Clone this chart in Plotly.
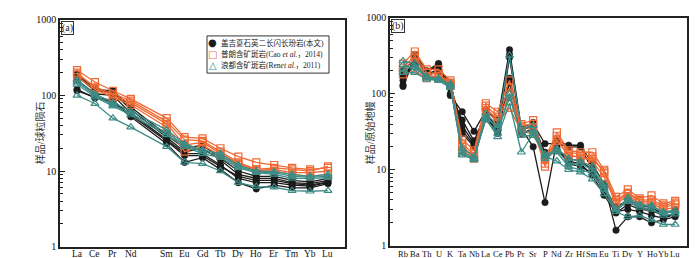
import plotly.graph_objects as go

# ---------------- data ----------------
ree_labels = ["La", "Ce", "Pr", "Nd", "Sm", "Eu", "Gd", "Tb", "Dy", "Ho", "Er", "Tm", "Yb", "Lu"]
ree_pos = [0, 1, 2, 3, 5, 6, 7, 8, 9, 10, 11, 12, 13, 14]  # Pm gap at 4

ree_black = [
    [190, 120, 115, 70, 30, 20, 22, 15, 10, 8.5, 8.5, 7.5, 7.2, 8],
    [180, 115, 110, 65, 28, 18, 20, 14, 9, 8, 8, 7, 6.8, 7.5],
    [160, 105, 100, 58, 26, 17, 17, 12, 8, 7, 7, 6.5, 6.3, 7],
    [120, 92, 82, 52, 23, 13, 15, 10.5, 7, 5.8, 6.5, 6, 6, 6.8],
    [115, 95, 85, 55, 25, 16, 16, 11.5, 8.5, 7.5, 7.5, 6.8, 6.5, 7.2],
]
ree_orange = [
    [215, 150, 115, 90, 50, 28, 27, 20, 15.5, 13, 12, 11, 10.5, 11],
    [190, 130, 105, 85, 45, 26, 25, 18, 13, 10.5, 11, 10.5, 10, 11.5],
    [175, 120, 95, 75, 38, 18, 22, 16, 12, 10, 10, 9, 8.5, 9],
    [200, 125, 100, 80, 42, 22, 24, 17, 12.5, 10.3, 10.5, 9.5, 9.5, 10],
]
ree_teal = [
    [160, 105, 80, 62, 35, 23, 19, 17, 12, 10, 9.8, 9, 8.5, 9],
    [150, 100, 75, 58, 32, 22, 18, 16, 11.5, 9.7, 9.5, 8.5, 8.3, 8.5],
    [140, 95, 72, 55, 30, 21, 17, 15, 11, 9.5, 9, 8, 8, 8.2],
    [100, 78, 50, 38, 21, 13, 12.5, 10, 7, 6.2, 6.1, 5.5, 5.4, 5.5],
]

te_labels = ["Rb", "Ba", "Th", "U", "K", "Ta", "Nb", "La", "Ce", "Pb", "Pr", "Sr", "P", "Nd",
             "Zr", "Hf", "Sm", "Eu", "Ti", "Dy", "Y", "Ho", "Yb", "Lu"]
te_black = [
    [130, 330, 200, 250, 95, 58, 32, 60, 45, 380, 35, 20, 3.7, 24, 21, 21, 12, 6.5, 1.6, 2.4, 2.4, 2.0, 2.2, 2.4],
    [125, 300, 190, 240, 100, 45, 24, 55, 35, 330, 32, 40, 22, 22, 20, 20, 10, 5, 2.8, 3.0, 2.8, 2.5, 2.3, 2.6],
    [170, 270, 200, 230, 130, 38, 22, 50, 32, 160, 35, 42, 16, 18, 13, 12, 8.5, 4.6, 2.7, 3.5, 3.0, 2.9, 2.5, 2.5],
    [200, 290, 180, 210, 140, 30, 20, 52, 30, 300, 33, 38, 17, 20, 12, 11, 9, 5.5, 3.0, 3.8, 3.2, 3.0, 2.7, 2.8],
    [150, 250, 170, 200, 120, 33, 21, 48, 33, 140, 30, 35, 15, 19, 14, 13, 10, 6, 3.2, 4.0, 3.4, 3.2, 2.6, 3.0],
]
te_orange = [
    [250, 360, 210, 210, 150, 25, 18, 75, 58, 150, 40, 45, 14, 31, 18, 17, 17, 10, 4.4, 5.5, 4.2, 4.6, 3.6, 3.9],
    [220, 320, 190, 180, 140, 22, 16, 70, 50, 120, 38, 40, 12, 28, 17, 16, 15, 9, 4.0, 5.0, 4.0, 4.0, 3.4, 3.7],
    [200, 300, 170, 170, 135, 20, 15, 65, 45, 100, 36, 35, 11, 25, 15, 15, 13, 8, 3.6, 4.5, 3.7, 3.6, 3.0, 3.2],
    [180, 200, 160, 160, 130, 18, 14, 60, 42, 65, 32, 30, 14, 24, 16, 14, 14, 9.5, 3.8, 4.8, 3.9, 3.8, 3.2, 3.5],
]
te_teal = [
    [270, 250, 170, 160, 135, 17, 14, 55, 38, 320, 35, 38, 15, 19, 14, 13, 11, 6.5, 2.8, 4.3, 3.5, 3.4, 2.8, 2.9],
    [240, 220, 165, 155, 130, 16, 13.5, 50, 35, 90, 30, 33, 14, 18, 12, 12, 10, 6, 3.0, 4.0, 3.4, 3.3, 2.7, 2.8],
    [210, 230, 160, 150, 125, 15.5, 14, 47, 27, 75, 17, 30, 15, 13, 10, 9.3, 7.5, 4.8, 2.8, 2.4, 2.5, 2.2, 1.9, 1.9],
    [190, 190, 155, 150, 120, 19, 15, 45, 30, 100, 28, 28, 16, 17, 11, 10, 9, 5.5, 3.0, 3.8, 3.2, 3.0, 2.5, 2.6],
]

legend_texts = ["盖吉夏石英二长闪长玢岩(本文)",
                "普朗含矿斑岩(Cao <i>et al</i>.，2014)",
                "浪都含矿斑岩(Ren<i>et al</i>.，2011)"]

# ---------------- styles ----------------
BLACK = "#1b1b1b"
ORANGE = "#ef6a35"
TEAL = "#3d8c86"
SERIF = "Liberation Serif, Noto Sans CJK SC"
groups = [
    (ree_black, te_black, BLACK, dict(symbol="circle", size=6.5, color=BLACK, line=dict(color=BLACK, width=0.5))),
    (ree_orange, te_orange, ORANGE, dict(symbol="square-open", size=7, color=ORANGE, line=dict(width=1.2))),
    (ree_teal, te_teal, TEAL, dict(symbol="triangle-up-open", size=7, color=TEAL, line=dict(width=1.2))),
]

fig = go.Figure()
te_pos = list(range(len(te_labels)))
for ree, te, col, mk in groups:
    for s in ree:
        fig.add_trace(go.Scatter(x=ree_pos, y=s, mode="lines+markers", xaxis="x", yaxis="y",
                                 line=dict(color=col, width=1.3), marker=mk, showlegend=False))
    for s in te:
        fig.add_trace(go.Scatter(x=te_pos, y=s, mode="lines+markers",
                                 xaxis="x2", yaxis="y2",
                                 line=dict(color=col, width=1.3), marker=mk, showlegend=False))

W, H = 700, 258
def px(x): return x / W
def py(y): return 1 - y / H

axis_common = dict(showline=True, linecolor="#222", linewidth=1.5, mirror=True,
                   showgrid=False, zeroline=False,
                   tickfont=dict(family=SERIF, size=10, color="#111"))

yaxis_common = dict(axis_common, type="log", range=[0, 3], tickvals=[1, 10, 100, 1000],
                    ticktext=["1", "10", "100", "1000"], ticks="inside", ticklen=5,
                    tickcolor="#222",
                    minor=dict(ticks="inside", ticklen=3, tickcolor="#222",
                               tickvals=[v * m for m in (1, 10, 100) for v in range(2, 10)]))

fig.update_layout(
    width=W, height=H, margin=dict(l=0, r=0, t=0, b=0),
    paper_bgcolor="white", plot_bgcolor="white", showlegend=False,
    xaxis=dict(axis_common, domain=[px(52), px(337)], range=[-0.95, 14.95],
               showticklabels=False, ticks=""),
    yaxis=dict(yaxis_common, domain=[py(244), py(6)], anchor="x"),
    xaxis2=dict(axis_common, domain=[px(382), px(679)], range=[-1.1, 24.0],
                showticklabels=False, ticks="", anchor="y2"),
    yaxis2=dict(yaxis_common, domain=[py(243), py(4)], anchor="x2"),
)

ann = []
# category labels under the axes (placed at the category positions of each x axis)
for p, lab in zip(ree_pos, ree_labels):
    ann.append(dict(text=lab, x=p, xref="x", y=py(252), yref="paper", yanchor="middle",
                    showarrow=False, font=dict(family=SERIF, size=9.5, color="#111")))
for p, lab in zip(te_pos, te_labels):
    ann.append(dict(text=lab, x=p, xref="x2", y=py(252), yref="paper", yanchor="middle",
                    showarrow=False, font=dict(family=SERIF, size=8.5, color="#111")))

ann.append(dict(text="样品/球粒陨石", x=px(24), y=py(125), xref="paper", yref="paper",
                textangle=-90, showarrow=False, font=dict(family=SERIF, size=10, color="#333")))
ann.append(dict(text="样品/原始地幔", x=px(362), y=py(125), xref="paper", yref="paper",
                textangle=-90, showarrow=False, font=dict(family=SERIF, size=10, color="#333")))
ann.append(dict(text="(a)", x=px(53), y=py(7), xref="paper", yref="paper", xanchor="left", yanchor="top",
                showarrow=False, bordercolor="#333", borderwidth=1, borderpad=0,
                font=dict(family=SERIF, size=10, color="#222")))
ann.append(dict(text="(b)", x=px(383), y=py(5), xref="paper", yref="paper", xanchor="left", yanchor="top",
                showarrow=False, bordercolor="#333", borderwidth=1, borderpad=0,
                font=dict(family=SERIF, size=10, color="#222")))

# legend box
fig.add_shape(type="rect", xref="paper", yref="paper", x0=px(199), x1=px(321), y0=py(62), y1=py(23),
              line=dict(color="#333", width=1), fillcolor="white", layer="above")
sym = [("●", BLACK), ("□", ORANGE), ("△", TEAL)]
rows = [30, 42, 54]
for (g, c), t, r in zip(sym, legend_texts, rows):
    ann.append(dict(text=g, x=px(204.5), y=py(r), xref="paper", yref="paper", xanchor="center",
                    yanchor="middle", showarrow=False, font=dict(family="DejaVu Sans", size=10, color=c)))
    ann.append(dict(text=t, x=px(210.5), y=py(r), xref="paper", yref="paper", xanchor="left",
                    yanchor="middle", showarrow=False, font=dict(family=SERIF, size=7.5, color="#222")))
fig.update_layout(annotations=ann)

fig.write_html("out.html")
